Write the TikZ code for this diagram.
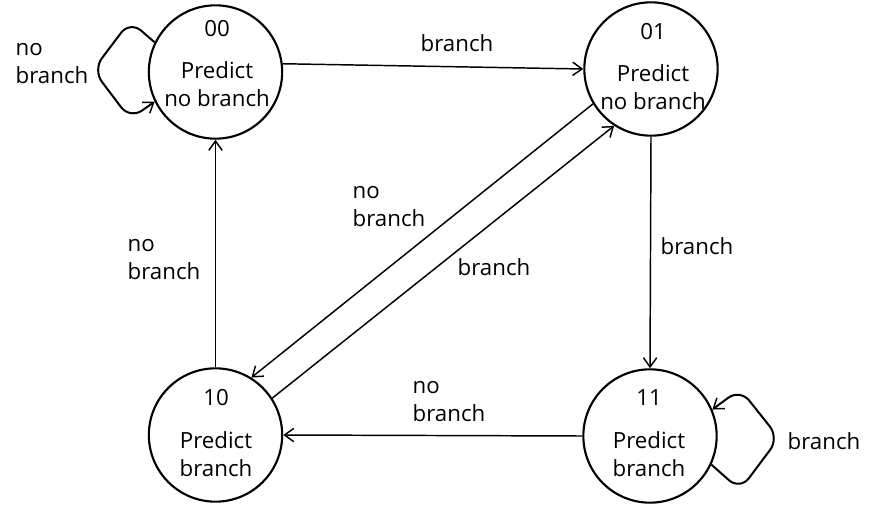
\documentclass[tikz,border=0pt]{standalone}
\usepackage{fontspec}
\setmainfont{Open Sans}
\usetikzlibrary{arrows.meta}
\begin{document}
\begin{tikzpicture}[x=0.75pt,y=-0.75pt,
  state/.style={draw,circle,line width=1.6pt,minimum size=100pt,inner sep=0pt},
  txt/.style={font=\fontsize{16.7}{21}\selectfont,inner sep=0pt,align=center},
  lbl/.style={font=\fontsize{16.7}{21}\selectfont,inner sep=0pt,align=left},
  edge/.style={line width=1.1pt,-{Straight Barb[length=7pt,width=10pt,line width=1.1pt]}},
  loopedge/.style={line width=1.5pt,rounded corners=11pt,-{Straight Barb[length=7pt,width=10pt,line width=1.1pt]}}]
\useasboundingbox (0,0) rectangle (877,506);
% states
\node[state] (c00) at (215.5,72) {};
\node[state] (c01) at (651,69) {};
\node[state] (c10) at (215.5,435) {};
\node[state] (c11) at (650,436) {};
% state texts
\node[txt] (n00) at (217,29) {00};
\node[txt] (p00) at (217,84) {Predict\\no branch};
\node[txt] (n01) at (653,32) {01};
\node[txt] (p01) at (653,87) {Predict\\no branch};
\node[txt] (n10) at (216,398) {10};
\node[txt] (p10) at (216,454) {Predict\\branch};
\node[txt] (n11) at (649,398) {11};
\node[txt] (p11) at (649,454) {Predict\\branch};
% edges
\draw[edge] (c00.7) -- (c01.180);
\draw[edge] (c01.270) -- (c11.90);
\draw[edge] (c11.180) -- (c10.0);
\draw[edge] (c10.90) -- (c00.270);
\draw[edge] (c01.211) -- (c10.58);
\draw[edge] (c10.33) -- (c01.237);
% self loops
\coordinate (a1) at (130,21);
\coordinate (a2) at (93,70);
\coordinate (a3) at (130,119);
\draw[loopedge] (c00.154) -- (a1) -- (a2) -- (a3) -- (c00.206);
\coordinate (b1) at (740,490);
\coordinate (b2) at (779,438);
\coordinate (b3) at (740,389);
\draw[loopedge] (c11.-25) -- (b1) -- (b2) -- (b3) -- (c11.23);
% labels
\node[lbl] (l1) at (457,43) {branch};
\node[lbl] (l2) at (697,246) {branch};
\node[lbl] (l3) at (449,402) {no\\branch};
\node[lbl] (l4) at (164,260) {no\\branch};
\node[lbl] (l5) at (389,207) {no\\branch};
\node[lbl] (l6) at (494,267) {branch};
\node[lbl] (l7) at (52,64) {no\\branch};
\node[lbl] (l8) at (824,441) {branch};
\end{tikzpicture}
\end{document}
